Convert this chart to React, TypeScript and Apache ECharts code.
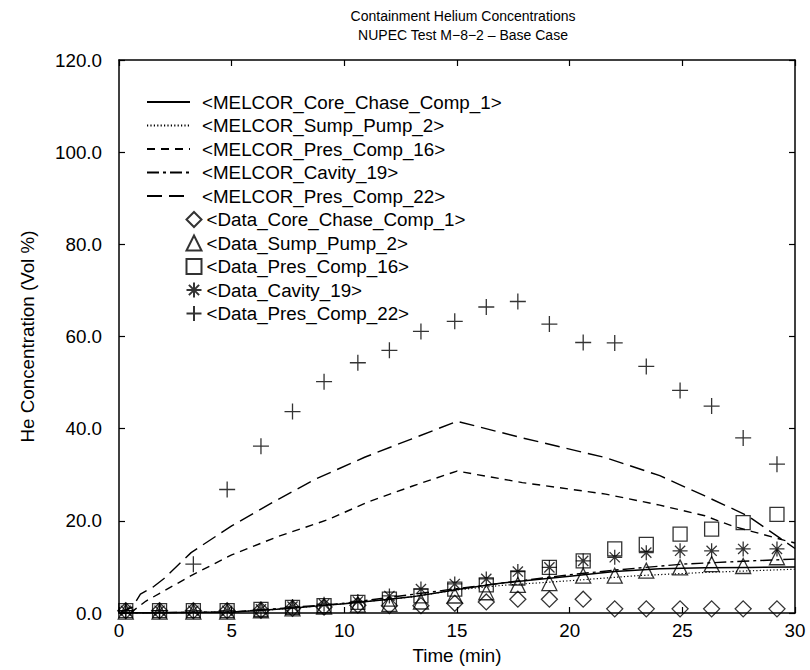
import React, { useEffect, useRef } from "react";
import * as echarts from "echarts";

// ---- tick / axis settings ----
const xTicks = [0, 5, 10, 15, 20, 25, 30];
const yTicks = [0, 20, 40, 60, 80, 100, 120];

// ---- MELCOR (lines) ----
const coreChaseT = [0, 5, 6, 7, 8, 9, 10, 11, 12, 13, 14, 15, 16, 17, 18, 19, 20, 22, 24, 26, 28, 30];
const coreChaseV = [0, 0.2, 0.5, 0.8, 1.2, 1.6, 2.0, 2.5, 3.0, 3.5, 4.3, 5.1, 5.8, 6.5, 7.0, 7.5, 8.0, 9.0, 9.6, 9.8, 9.9, 10.0];

const sumpPumpT = [0, 5, 7, 9, 11, 13, 15, 17, 20, 23, 26, 30];
const sumpPumpV = [0, 0.2, 0.8, 1.6, 2.5, 3.5, 5.0, 6.0, 7.0, 8.1, 8.8, 9.5];

const presComp16T = [0.5, 1.2, 3.2, 5, 7, 9.3, 11, 13, 15, 17.9, 21.6, 24, 26, 27.2, 29.5, 30];
const presComp16V = [0, 2.6, 8.1, 12.6, 16.5, 20.3, 24.0, 27.5, 30.8, 28.3, 25.8, 23.4, 21.1, 18.9, 15.8, 15.2];

const cavity19T = [0, 5, 10, 15, 20, 22, 25, 28, 30];
const cavity19V = [0, 0.2, 2.1, 5.3, 8.3, 9.3, 10.6, 11.3, 11.7];

const presComp22T = [0, 0.6, 0.95, 1.5, 2, 3.2, 5, 7, 8.7, 10.9, 13, 15, 17.9, 21.6, 24, 26, 27.9, 30];
const presComp22V = [0, 1.3, 4.1, 5.6, 7.5, 13.1, 18.9, 24.5, 29.0, 33.8, 37.8, 41.6, 38.0, 33.7, 29.8, 25.4, 21.1, 14.0];

// ---- Data (markers) ----
const dataT = [0.3, 1.8, 3.3, 4.8, 6.3, 7.7, 9.1, 10.6, 12.0, 13.4, 14.9, 16.3, 17.7, 19.1, 20.6, 22.0, 23.4, 24.9, 26.3, 27.7, 29.2];
const dataCoreChase = [0.5, 0.5, 0.5, 0.5, 0.6, 1.0, 1.3, 1.7, 1.6, 1.6, 2.1, 2.4, 3.0, 3.0, 3.0, 0.9, 0.9, 0.9, 0.9, 0.9, 0.9];
const dataSumpPump = [0.3, 0.3, 0.3, 0.3, 0.6, 1.0, 1.4, 1.8, 2.0, 2.5, 3.8, 4.5, 6.1, 6.5, 8.1, 8.1, 9.2, 9.9, 10.6, 10.2, 12.1];
const dataPresComp16 = [0.5, 0.5, 0.5, 0.5, 0.8, 1.2, 1.6, 2.3, 3.0, 3.7, 5.2, 6.1, 7.6, 9.9, 11.3, 13.9, 14.9, 17.1, 18.2, 19.6, 21.4];
const dataCavity19 = [0.5, 0.5, 0.5, 0.5, 0.8, 1.4, 1.9, 2.5, 3.7, 5.2, 6.3, 7.4, 9.0, 9.9, 11.3, 12.1, 13.1, 13.5, 13.5, 13.9, 13.9];
const dataPresComp22 = [0.5, 0.5, 10.6, 26.8, 36.2, 43.7, 50.2, 54.3, 57.0, 61.1, 63.3, 66.4, 67.6, 62.7, 58.7, 58.6, 53.5, 48.3, 44.9, 38.0, 32.3];

const lineNames = [
  "<MELCOR_Core_Chase_Comp_1>",
  "<MELCOR_Sump_Pump_2>",
  "<MELCOR_Pres_Comp_16>",
  "<MELCOR_Cavity_19>",
  "<MELCOR_Pres_Comp_22>",
];
const dataNames = [
  "<Data_Core_Chase_Comp_1>",
  "<Data_Sump_Pump_2>",
  "<Data_Pres_Comp_16>",
  "<Data_Cavity_19>",
  "<Data_Pres_Comp_22>",
];

const titleLines = ["Containment Helium Concentrations", "NUPEC Test M\u22128\u22122 \u2013 Base Case"];

const FONT = "Liberation Sans, Arial, Helvetica, sans-serif";
const FS = 18.8;

function pairs(t: number[], v: number[]) {
  return t.map((x, i) => [x, v[i]]);
}

export default function App() {
  const ref = useRef<HTMLDivElement>(null);
  useEffect(() => {
    if (!ref.current) return;
    const chart = echarts.init(ref.current, null, { renderer: "svg" });

    const lineDefs = [
      { t: coreChaseT, v: coreChaseV, type: "solid" as any, w: 1.5 },
      { t: sumpPumpT, v: sumpPumpV, type: [1.2, 2.2], w: 1.2 },
      { t: presComp16T, v: presComp16V, type: [8, 6], w: 1.4 },
      { t: cavity19T, v: cavity19V, type: [12, 4, 3, 4], w: 1.4 },
      { t: presComp22T, v: presComp22V, type: [15, 7], w: 1.4 },
    ];
    const lineSeries = lineDefs.map((d, i) => ({
      name: lineNames[i],
      type: "line",
      xAxisIndex: 0,
      yAxisIndex: 0,
      data: pairs(d.t, d.v),
      symbol: "none",
      showSymbol: false,
      smooth: false,
      lineStyle: { color: "#000", width: d.w, type: d.type },
      itemStyle: { color: "#000" },
      z: 3,
    }));

    const plusPath = "path://M0,5L10,5M5,0L5,10";
    const starPath = "path://M0,5L10,5M5,0L5,10M1.6,1.6L8.4,8.4M1.6,8.4L8.4,1.6";
    const markerDefs = [
      { v: dataCoreChase, symbol: "diamond", size: 16 },
      { v: dataSumpPump, symbol: "triangle", size: 15 },
      { v: dataPresComp16, symbol: "rect", size: 14 },
      { v: dataCavity19, symbol: starPath, size: 15 },
      { v: dataPresComp22, symbol: plusPath, size: 16 },
    ];
    const scatterSeries = markerDefs.map((d, i) => ({
      name: dataNames[i],
      type: "scatter",
      xAxisIndex: 0,
      yAxisIndex: 0,
      data: pairs(dataT, d.v),
      symbol: d.symbol,
      symbolSize: d.size,
      itemStyle: { color: "none", borderColor: "#000", borderWidth: 1.3 },
      z: 4,
    }));

    const tickStyle = { show: true, inside: true, length: 6, lineStyle: { color: "#000", width: 1.2 } };
    const axisLineStyle = { show: true, onZero: false, lineStyle: { color: "#000", width: 1.5 } };

    chart.setOption({
      animation: false,
      textStyle: { fontFamily: FONT, color: "#000" },
      grid: { left: 119, right: 15, top: 60, bottom: 56, containLabel: false },
      graphic: titleLines.map((s, i) => ({
        type: "text",
        x: 463,
        y: 16 + i * 19,
        style: {
          text: s,
          fontSize: 14,
          fontFamily: FONT,
          fill: "#000",
          textAlign: "center",
          textVerticalAlign: "middle",
        },
      })),
      legend: [
        {
          data: lineNames,
          orient: "vertical",
          left: 146,
          top: 92,
          itemWidth: 43,
          itemHeight: 14,
          itemGap: 3.5,
          selectedMode: false,
          padding: 0,
          itemStyle: { opacity: 0 },
          textStyle: { fontSize: FS, lineHeight: 20, color: "#000", fontFamily: FONT, padding: [0, 0, 0, 7] },
        },
        {
          data: dataNames,
          orient: "vertical",
          left: 184,
          top: 209.5,
          itemWidth: 15,
          itemHeight: 15,
          itemGap: 3.5,
          selectedMode: false,
          padding: 0,
          textStyle: { fontSize: FS, lineHeight: 20, color: "#000", fontFamily: FONT, padding: [0, 0, 0, 0] },
        },
      ],
      xAxis: [
        {
          type: "value",
          min: xTicks[0],
          max: xTicks[xTicks.length - 1],
          interval: xTicks[1] - xTicks[0],
          position: "bottom",
          name: "Time (min)",
          nameLocation: "middle",
          nameGap: 33,
          nameTextStyle: { fontSize: FS, color: "#000", fontFamily: FONT },
          axisLine: axisLineStyle,
          axisTick: tickStyle,
          splitLine: { show: false },
          axisLabel: { fontSize: FS, color: "#000", margin: 8, fontFamily: FONT, formatter: (v: number) => String(v) },
        },
        {
          type: "value",
          min: xTicks[0],
          max: xTicks[xTicks.length - 1],
          interval: xTicks[1] - xTicks[0],
          position: "top",
          axisLine: axisLineStyle,
          axisTick: tickStyle,
          splitLine: { show: false },
          axisLabel: { show: false },
        },
      ],
      yAxis: [
        {
          type: "value",
          min: yTicks[0],
          max: yTicks[yTicks.length - 1],
          interval: yTicks[1] - yTicks[0],
          position: "left",
          name: "He Concentration (Vol %)",
          nameLocation: "middle",
          nameGap: 82,
          nameTextStyle: { fontSize: FS, color: "#000", fontFamily: FONT },
          axisLine: axisLineStyle,
          axisTick: tickStyle,
          splitLine: { show: false },
          axisLabel: { fontSize: FS, color: "#000", margin: 17, fontFamily: FONT, formatter: (v: number) => v.toFixed(1) },
        },
        {
          type: "value",
          min: yTicks[0],
          max: yTicks[yTicks.length - 1],
          interval: yTicks[1] - yTicks[0],
          position: "right",
          axisLine: axisLineStyle,
          axisTick: tickStyle,
          splitLine: { show: false },
          axisLabel: { show: false },
        },
      ],
      series: [...lineSeries, ...scatterSeries],
    });

    return () => chart.dispose();
  }, []);

  return <div ref={ref} style={{ width: 810, height: 670, position: "absolute", left: 0, top: 0 }} />;
}
